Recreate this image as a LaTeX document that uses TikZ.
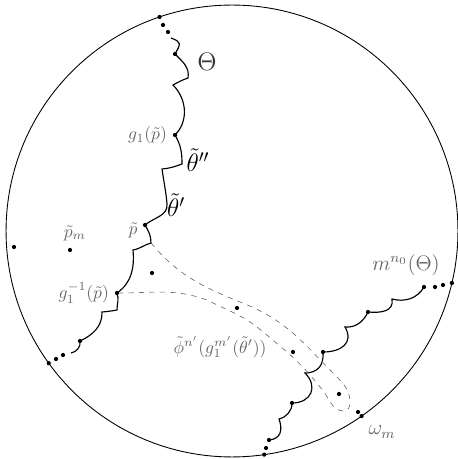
\documentclass[tikz,border=0pt]{standalone}
\usepackage{amsmath}
\usepackage{tikz}
\usetikzlibrary{positioning, calc}
\tikzset{
  dt/.style  ={circle, fill, inner sep=0pt, minimum size=2.4pt},
  wig/.style ={line width=0.65pt},
  rim/.style ={line width=0.5pt},
  tube/.style={dashed, draw=black!60, line width=0.35pt},
  lbl/.style ={text=black!60, inner sep=1pt},
  lbig/.style={font=\Large, inner sep=1pt},
}
\begin{document}
\begin{tikzpicture}[x=0.02cm, y=0.02cm]
  \useasboundingbox (0,0) rectangle (457,459);
  \coordinate (O) at (232,228);
  \draw[rim] (O) circle (4.52cm);

  \node[dt] (ttop) at ($(O)+(108.7:4.52cm)$) {};
  \node[dt] (ta) at (163,434) {};
  \node[dt] (tb) at (168,427) {};
  \coordinate (ts) at (171,421);
  \node[dt] (t1) at (175,405) {};
  \coordinate (c1) at (188,381);
  \coordinate (c2) at (173,374);
  \node[dt] (g1p) at (175,324) {};
  \coordinate (c3) at (182,295);
  \coordinate (c4) at (162,290);
  \coordinate (c4b) at (167,255);
  \node[dt] (ptil) at (145,234) {};
  \coordinate (c5) at (151,216);
  \coordinate (c6) at (133,209);
  \node[dt] (g1i) at (117,166) {};
  \coordinate (c7) at (117,149);
  \coordinate (c8) at (102,147);
  \node[dt] (l1) at (80,118) {};
  \coordinate (le) at (71,106);
  \node[dt] (la) at (63,104) {};
  \node[dt] (lb) at (56,100) {};
  \node[dt] (lbot) at ($(O)+(215.8:4.52cm)$) {};

  \draw[wig] (ts) to[out=-20,in=60,looseness=1.8] (t1.center) to[out=-45,in=80] (c1) to[out=200,in=30] (c2)
    to[out=-45,in=45] (g1p.center) to[out=-60,in=90] (c3) to[out=200,in=5] (c4) to[out=-82,in=95] (c4b)
    to[out=-85,in=40] (ptil.center) to[out=-60,in=90] (c5) to[out=195,in=10] (c6) to[out=-85,in=35] (g1i.center)
    to[out=-70,in=90] (c7) to[out=190,in=5] (c8) to[out=-88,in=25] (l1.center) to[out=-80,in=10] (le);

  \node[dt] (rbot) at ($(O)+(-81.8:4.52cm)$) {};
  \node[dt] (ra) at (266,11) {};
  \node[dt] (r0) at (269,19) {};
  \coordinate (r1) at (279,40);
  \node[dt] (r2) at (292,56) {};
  \coordinate (r3) at (305,86);
  \node[dt] (r4) at (323,107) {};
  \coordinate (r5) at (345,132);
  \node[dt] (r6) at (368,147) {};
  \coordinate (r7) at (392,160);
  \node[dt] (r8) at (424,172) {};
  \node[dt] (rb) at (435,172) {};
  \node[dt] (rc) at (443,174) {};
  \node[dt] (rtop) at ($(O)+(-13.3:4.52cm)$) {};

  \draw[wig] (r0.center) to[out=5,in=-70,looseness=1.3] (r1) to[out=15,in=-90] (r2.center)
    to[out=0,in=-45,looseness=1.5] (r3) to[out=0,in=-85,looseness=1.2] (r4.center)
    to[out=0,in=-60,looseness=1.4] (r5) to[out=-5,in=-115] (r6.center)
    to[out=-5,in=-80,looseness=1.2] (r7) to[out=-15,in=-120] (r8.center);

  \draw[tube] (c5) to[out=-50,in=158] (245,155) to[out=-22,in=135] (337,82) to[out=-45,in=90] (350,56)
    to[out=-90,in=0] (344,48) to[out=180,in=-45] (320,72) to[out=128,in=-40] (262,128)
    to[out=140,in=-27] (207,159) to[out=160,in=0] (g1i);

  \node[dt] (q1) at (14,212) {};
  \node[dt] (pm) at (70,209) {};
  \node[dt] (q2) at (152,186) {};
  \node[dt] (q3) at (237,151) {};
  \node[dt] (q4) at (293,107) {};
  \node[dt] (q5) at (339,65) {};
  \node[dt] (q6) at (358,47) {};
  \node[dt] (wm) at ($(O)+(-55:4.52cm)$) {};

  \node[lbig, text=black!80] (th) at (207,397) {$\Theta$};
  \node[lbig] (thpp) at (198,299) {$\tilde\theta''$};
  \node[lbig] (thp) at (176,254) {$\tilde\theta'$};
  \node[lbl, left=2pt of g1p] (g1pl) {$g_1(\tilde p)$};
  \node[lbl] (ptl) at (133,229) {$\tilde p$};
  \node[lbl] (pml) at (75,226) {$\tilde p_m$};
  \node[lbl, left=2pt of g1i] (g1il) {$g_1^{-1}(\tilde p)$};
  \node[lbl] (phil) at (220,112) {$\tilde\phi^{n'}(g_1^{m'}(\tilde\theta'))$};
  \node[lbl, font=\large] (mnl) at (406,194) {$m^{n_0}(\Theta)$};
  \node[lbl, font=\large] (oml) at (382,27) {$\omega_m$};
\end{tikzpicture}
\end{document}
